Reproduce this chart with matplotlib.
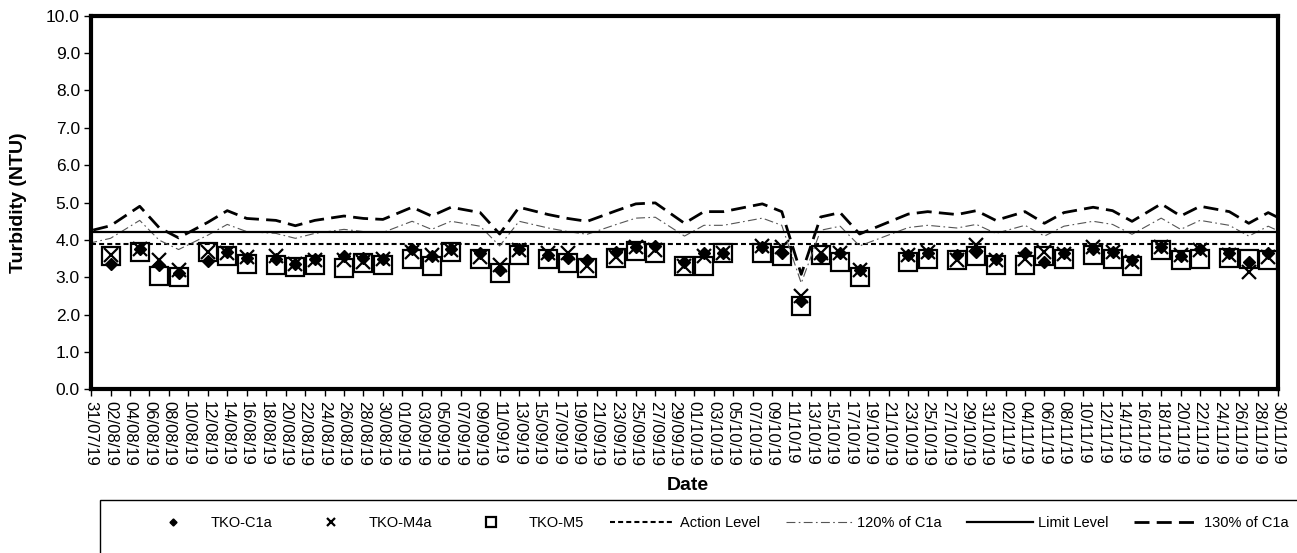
import matplotlib
matplotlib.use("Agg")
import matplotlib.pyplot as plt
import matplotlib.dates as mdates
from matplotlib.patches import Rectangle
import numpy as np
import pandas as pd

plt.rcParams['font.family'] = ['Liberation Sans', 'DejaVu Sans']

# ============ DATA ============
dates = ["29/07/19",
         "02/08/19", "05/08/19", "07/08/19", "09/08/19", "12/08/19", "14/08/19", "16/08/19",
         "19/08/19", "21/08/19", "23/08/19", "26/08/19", "28/08/19", "30/08/19",
         "02/09/19", "04/09/19", "06/09/19", "09/09/19", "11/09/19", "13/09/19",
         "16/09/19", "18/09/19", "20/09/19", "23/09/19", "25/09/19", "27/09/19",
         "30/09/19", "02/10/19", "04/10/19", "08/10/19", "10/10/19", "12/10/19",
         "14/10/19", "16/10/19", "18/10/19", "23/10/19", "25/10/19", "28/10/19",
         "30/10/19", "01/11/19", "04/11/19", "06/11/19", "08/11/19", "11/11/19",
         "13/11/19", "15/11/19", "18/11/19", "20/11/19", "22/11/19", "25/11/19",
         "27/11/19", "29/11/19",
         "02/12/19"]

tko_c1a = [3.17,
           3.37, 3.77, 3.33, 3.12, 3.44, 3.68, 3.52,
           3.48, 3.37, 3.48, 3.57, 3.52, 3.50,
           3.75, 3.57, 3.75, 3.64, 3.20, 3.75,
           3.60, 3.52, 3.46, 3.68, 3.82, 3.84,
           3.42, 3.66, 3.66, 3.82, 3.66, 2.37,
           3.55, 3.64, 3.20, 3.61, 3.66, 3.60,
           3.68, 3.48, 3.66, 3.42, 3.64, 3.75,
           3.68, 3.46, 3.82, 3.57, 3.77, 3.66,
           3.42, 3.64,
           3.34]

tko_m4a = [np.nan,
           3.60, 3.75, 3.46, 3.20, 3.68, 3.64, 3.55,
           3.58, 3.35, 3.46, 3.46, 3.42, 3.50,
           3.68, 3.60, 3.73, 3.55, 3.33, 3.73,
           3.64, 3.64, 3.30, 3.55, 3.80, 3.73,
           3.30, 3.57, 3.64, 3.84, 3.82, 2.50,
           3.64, 3.64, 3.20, 3.60, 3.68, 3.46,
           3.86, 3.46, 3.50, 3.68, 3.62, 3.82,
           3.68, 3.42, 3.80, 3.60, 3.73, 3.60,
           3.15, 3.55,
           np.nan]

tko_m5 = [np.nan,
          3.57, 3.68, 3.03, 3.02, 3.68, 3.57, 3.37,
          3.33, 3.28, 3.33, 3.26, 3.39, 3.33,
          3.48, 3.30, 3.68, 3.48, 3.12, 3.61,
          3.48, 3.39, 3.26, 3.52, 3.70, 3.66,
          3.30, 3.30, 3.66, 3.64, 3.57, 2.23,
          3.60, 3.42, 3.02, 3.42, 3.48, 3.46,
          3.57, 3.33, 3.33, 3.57, 3.48, 3.61,
          3.48, 3.30, 3.73, 3.46, 3.48, 3.51,
          3.48, 3.46,
          np.nan]

action_level = 3.9
limit_level = 4.2

x = pd.to_datetime(dates, format="%d/%m/%y")
c1a = np.array(tko_c1a)
# the two derived lines are defined in the legend as percentages of C1a
c1a_120 = c1a * 1.2
c1a_130 = c1a * 1.3

x_start = pd.Timestamp("2019-07-31")
x_end = pd.Timestamp("2019-11-30")
tick_dates = pd.date_range(x_start, x_end, freq="2D")

# ============ FIGURE ============
fig = plt.figure(figsize=(12.97, 5.53), dpi=100)
ax = fig.add_axes([0.0702, 0.2957, 0.9151, 0.6759])

ax.plot(x, c1a, linestyle='none', marker='D', markersize=6.5, color='black', label='TKO-C1a')
ax.plot(x, tko_m4a, linestyle='none', marker='x', markersize=10, markeredgewidth=1.6,
        color='black', label='TKO-M4a')
ax.plot(x, tko_m5, linestyle='none', marker='s', markersize=13, markeredgewidth=1.6,
        markerfacecolor='none', markeredgecolor='black', label='TKO-M5')
ax.axhline(action_level, color='black', linewidth=1.5, linestyle=(0, (2.4, 1.5)),
           label='Action Level')
ax.plot(x, c1a_120, color='#555555', linewidth=0.8, linestyle=(0, (8, 3, 1.5, 3)),
        label='120% of C1a')
ax.axhline(limit_level, color='black', linewidth=1.6, linestyle='-', label='Limit Level')
ax.plot(x, c1a_130, color='black', linewidth=2.0, linestyle=(0, (5.4, 2.6)),
        label='130% of C1a')

ax.set_xlim(x_start, x_end)
ax.set_ylim(0, 10)
ax.set_yticks(np.arange(0, 10.5, 1.0))
ax.yaxis.set_major_formatter(matplotlib.ticker.FormatStrFormatter('%.1f'))
ax.set_xticks(tick_dates)
ax.xaxis.set_major_formatter(mdates.DateFormatter('%d/%m/%y'))
plt.setp(ax.get_xticklabels(), rotation=-90, ha='center', va='top', fontsize=12)
plt.setp(ax.get_yticklabels(), fontsize=12.5)
ax.tick_params(axis='both', direction='out', length=5, width=1, color='black', pad=3)

for side in ['left', 'right', 'top', 'bottom']:
    ax.spines[side].set_linewidth(3)
    ax.spines[side].set_color('black')

ax.set_ylabel('Turbidity (NTU)', fontsize=14, fontweight='bold', labelpad=14)
fig.text(0.5305, 1 - 485 / 553, 'Date', ha='center', va='center', fontsize=14, fontweight='bold')

# legend box (runs past the right and bottom edges like the original)
fig.patches.append(Rectangle((100 / 1297, -0.2), 1.0, 0.2 + 53 / 553, transform=fig.transFigure,
                             facecolor='white', edgecolor='black', linewidth=1.0))
handles, labels = ax.get_legend_handles_labels()
fig.legend(handles, labels, ncol=7, loc='center', bbox_to_anchor=(0.551, 1 - 523 / 553),
           frameon=False, fontsize=10.5, handlelength=4.5, handletextpad=0.35,
           columnspacing=1.75, markerscale=0.55)

fig.savefig('out.png', dpi=100)
